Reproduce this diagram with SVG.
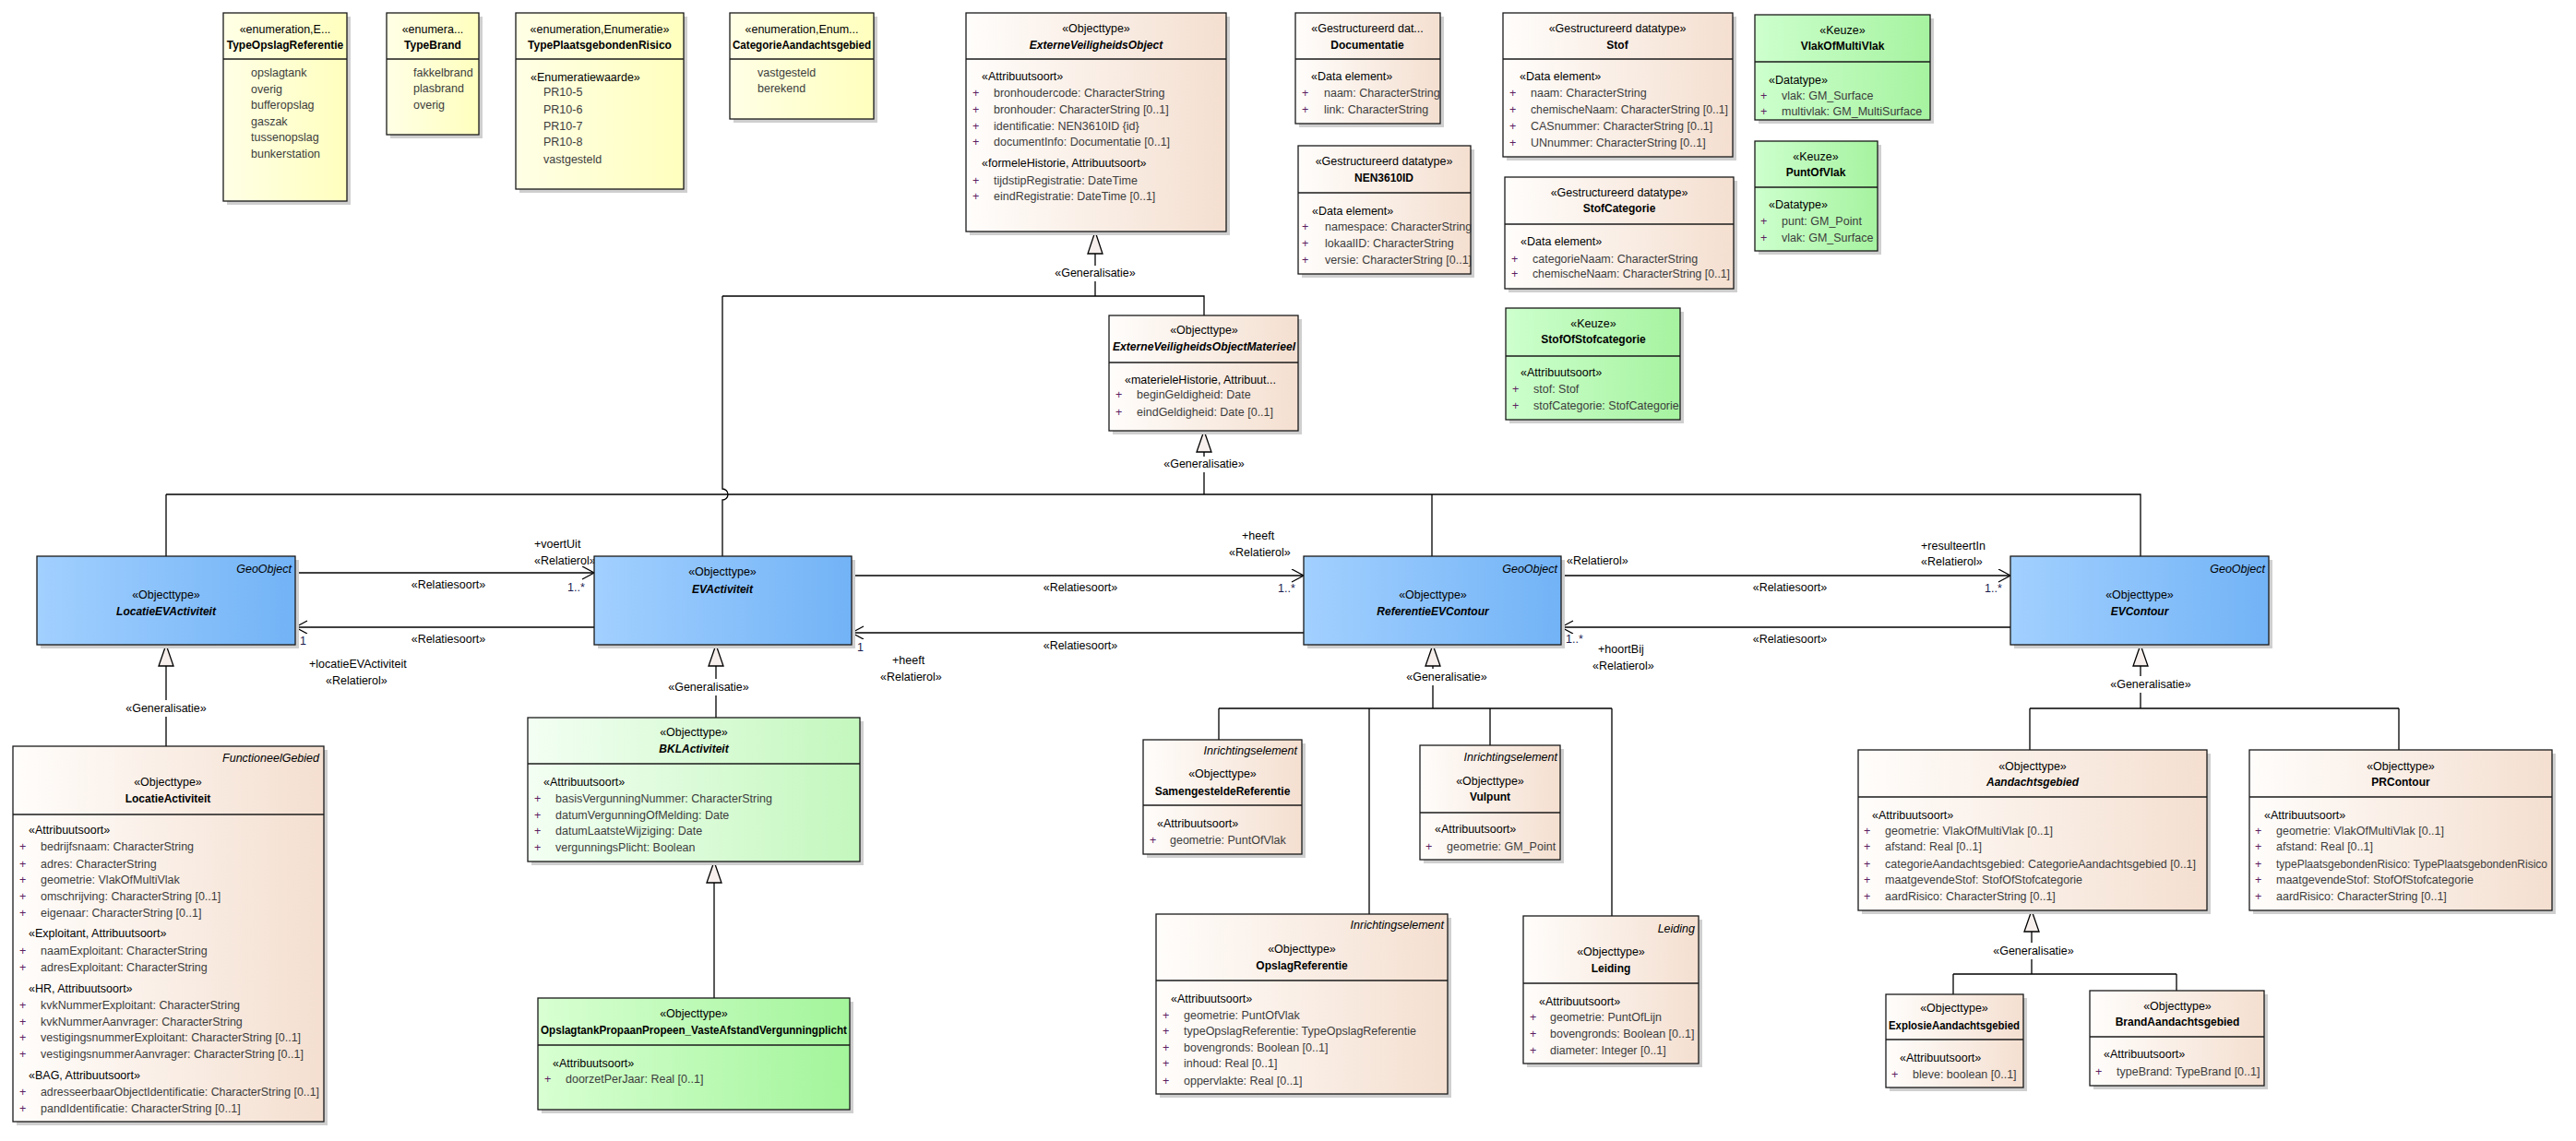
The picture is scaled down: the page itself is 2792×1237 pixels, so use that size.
<svg xmlns="http://www.w3.org/2000/svg" width="2792" height="1237" viewBox="0 0 2792 1237">
<style>
.t{font-family:"Liberation Sans",Arial,sans-serif;font-size:12.5px;fill:#000}
.c{text-anchor:middle}
.e{text-anchor:end}
.b{font-weight:bold;font-size:12px}
.i{font-style:italic}
.a{fill:#3c3c3c}
.p{fill:#5a2060}
.m{fill:#1c1c50}
.sh{fill:#cfcfcf}
.bx{stroke:#1a1a1a;stroke-width:1.3}
.sep{stroke:#1a1a1a;stroke-width:1.3}
.ln{stroke:#000;stroke-width:1.3;fill:none}
.tri{fill:#f7efec;stroke:#000;stroke-width:1.3}
</style>
<defs>
<linearGradient id="gY" x1="0" y1="0" x2="1" y2="0"><stop offset="0" stop-color="#ffffe6"/><stop offset="1" stop-color="#ffffbe"/></linearGradient>
<linearGradient id="gO" x1="0" y1="0" x2="1" y2="0"><stop offset="0" stop-color="#fffdfb"/><stop offset="1" stop-color="#f4dfd0"/></linearGradient>
<linearGradient id="gBl" x1="0" y1="0" x2="1" y2="0"><stop offset="0" stop-color="#a2d0ff"/><stop offset="1" stop-color="#72b3f6"/></linearGradient>
<linearGradient id="gG" x1="0" y1="0" x2="1" y2="0"><stop offset="0" stop-color="#cdffcd"/><stop offset="1" stop-color="#a6f3a0"/></linearGradient>
<linearGradient id="gGL" x1="0" y1="0" x2="1" y2="0"><stop offset="0" stop-color="#f3fff3"/><stop offset="1" stop-color="#c3f7bd"/></linearGradient>
<linearGradient id="gG2" x1="0" y1="0" x2="1" y2="0"><stop offset="0" stop-color="#d8ffd2"/><stop offset="1" stop-color="#a3f59b"/></linearGradient>
<marker id="open" markerWidth="16" markerHeight="16" refX="14" refY="7" orient="auto" markerUnits="userSpaceOnUse"><path d="M1,0 L14,7 L1,14" fill="none" stroke="#000" stroke-width="1.3"/></marker>
</defs>
<rect x="0" y="0" width="2792" height="1237" fill="#ffffff"/>

<g id="connectors">
<polygon class="tri" points="1187,251 1179,275 1195,275"/>
<path class="ln" d="M1187,275 V288 M1187,305 V321 M783,321 H1305 V342 M783,321 V530 A6,6 0 0 1 783,542 V603"/>
<text class="t c" x="1187" y="300">«Generalisatie»</text>
<polygon class="tri" points="1305,467 1297,490 1313,490"/>
<path class="ln" d="M1305,490 V495 M1305,512 V536 M180,536 H2320 V603 M180,536 V603 M1552,536 V603"/>
<text class="t c" x="1305" y="507">«Generalisatie»</text>
<polygon class="tri" points="180,699 172,722 188,722"/>
<path class="ln" d="M180,722 V759 M180,777 V809"/>
<text class="t c" x="180" y="772">«Generalisatie»</text>
<polygon class="tri" points="776,699 768,722 784,722"/>
<path class="ln" d="M776,722 V736 M776,754 V778"/>
<text class="t c" x="768" y="749">«Generalisatie»</text>
<polygon class="tri" points="774,934 766,957 782,957"/>
<path class="ln" d="M774,957 V1082"/>
<polygon class="tri" points="1553,699 1545,722 1561,722"/>
<path class="ln" d="M1553,722 V725 M1553,743 V768 M1321,768 H1747 M1321,768 V802 M1484,768 V991 M1615,768 V808 M1747,768 V993"/>
<text class="t c" x="1568" y="738">«Generalisatie»</text>
<polygon class="tri" points="2320,699 2312,722 2328,722"/>
<path class="ln" d="M2320,722 V733 M2320,751 V768 M2200,768 H2600 M2200,768 V813 M2600,768 V813"/>
<text class="t c" x="2331" y="746">«Generalisatie»</text>
<polygon class="tri" points="2202,987 2194,1010 2210,1010"/>
<path class="ln" d="M2202,1010 V1022 M2202,1040 V1056 M2117,1056 H2359 M2117,1056 V1078 M2359,1056 V1074"/>
<text class="t c" x="2204" y="1035">«Generalisatie»</text>

<line class="ln" x1="320" y1="621" x2="644" y2="621" marker-end="url(#open)"/>
<line class="ln" x1="644" y1="680" x2="320" y2="680" marker-end="url(#open)"/>
<line class="ln" x1="923" y1="624" x2="1413" y2="624" marker-end="url(#open)"/>
<line class="ln" x1="1413" y1="686" x2="923" y2="686" marker-end="url(#open)"/>
<line class="ln" x1="1692" y1="624" x2="2179" y2="624" marker-end="url(#open)"/>
<line class="ln" x1="2179" y1="680" x2="1692" y2="680" marker-end="url(#open)"/>

<text class="t" x="579" y="594">+voertUit</text>
<text class="t" x="579" y="612">«Relatierol»</text>
<text class="t c" x="486" y="638">«Relatiesoort»</text>
<text class="t m" x="615" y="641">1..*</text>
<text class="t c" x="486" y="697">«Relatiesoort»</text>
<text class="t m" x="325" y="699">1</text>
<text class="t" x="335" y="724">+locatieEVActiviteit</text>
<text class="t" x="353" y="742">«Relatierol»</text>

<text class="t" x="1346" y="585">+heeft</text>
<text class="t" x="1332" y="603">«Relatierol»</text>
<text class="t c" x="1171" y="641">«Relatiesoort»</text>
<text class="t m" x="1385" y="642">1..*</text>
<text class="t c" x="1171" y="704">«Relatiesoort»</text>
<text class="t m" x="929" y="706">1</text>
<text class="t" x="967" y="720">+heeft</text>
<text class="t" x="954" y="738">«Relatierol»</text>

<text class="t" x="1698" y="612">«Relatierol»</text>
<text class="t" x="2082" y="596">+resulteertIn</text>
<text class="t" x="2082" y="613">«Relatierol»</text>
<text class="t c" x="1940" y="641">«Relatiesoort»</text>
<text class="t m" x="2151" y="642">1..*</text>
<text class="t c" x="1940" y="697">«Relatiesoort»</text>
<text class="t m" x="1697" y="697">1..*</text>
<text class="t" x="1732" y="708">+hoortBij</text>
<text class="t" x="1726" y="726">«Relatierol»</text>
</g>

<g id="TypeOpslagReferentie">
<rect class="sh" x="246" y="18" width="134" height="204"/>
<rect class="bx" fill="url(#gY)" x="242" y="14" width="134" height="204"/>
<line class="sep" x1="242" y1="64" x2="376" y2="64"/>
<text class="t c" x="309" y="36">«enumeration,E...</text>
<text class="t c b" x="309" y="53">TypeOpslagReferentie</text>
<text class="t a" x="272" y="83">opslagtank</text>
<text class="t a" x="272" y="101">overig</text>
<text class="t a" x="272" y="118">bufferopslag</text>
<text class="t a" x="272" y="136">gaszak</text>
<text class="t a" x="272" y="153">tussenopslag</text>
<text class="t a" x="272" y="171">bunkerstation</text>
</g>

<g id="TypeBrand">
<rect class="sh" x="423" y="18" width="100" height="132"/>
<rect class="bx" fill="url(#gY)" x="419" y="14" width="100" height="132"/>
<line class="sep" x1="419" y1="64" x2="519" y2="64"/>
<text class="t c" x="469" y="36">«enumera...</text>
<text class="t c b" x="469" y="53">TypeBrand</text>
<text class="t a" x="448" y="83">fakkelbrand</text>
<text class="t a" x="448" y="100">plasbrand</text>
<text class="t a" x="448" y="118">overig</text>
</g>

<g id="TypePlaatsgebondenRisico">
<rect class="sh" x="563" y="18" width="182" height="191"/>
<rect class="bx" fill="url(#gY)" x="559" y="14" width="182" height="191"/>
<line class="sep" x1="559" y1="64" x2="741" y2="64"/>
<text class="t c" x="650" y="36">«enumeration,Enumeratie»</text>
<text class="t c b" x="650" y="53">TypePlaatsgebondenRisico</text>
<text class="t" x="575" y="88">«Enumeratiewaarde»</text>
<text class="t a" x="589" y="104">PR10-5</text>
<text class="t a" x="589" y="123">PR10-6</text>
<text class="t a" x="589" y="141">PR10-7</text>
<text class="t a" x="589" y="158">PR10-8</text>
<text class="t a" x="589" y="177">vastgesteld</text>
</g>

<g id="CategorieAandachtsgebied">
<rect class="sh" x="795" y="18" width="156" height="115"/>
<rect class="bx" fill="url(#gY)" x="791" y="14" width="156" height="115"/>
<line class="sep" x1="791" y1="64" x2="947" y2="64"/>
<text class="t c" x="869" y="36">«enumeration,Enum...</text>
<text class="t c b" x="869" y="53" textLength="150" lengthAdjust="spacingAndGlyphs">CategorieAandachtsgebied</text>
<text class="t a" x="821" y="83">vastgesteld</text>
<text class="t a" x="821" y="100">berekend</text>
</g>

<g id="ExterneVeiligheidsObject">
<rect class="sh" x="1051" y="18" width="282" height="237"/>
<rect class="bx" fill="url(#gO)" x="1047" y="14" width="282" height="237"/>
<line class="sep" x1="1047" y1="64" x2="1329" y2="64"/>
<text class="t c" x="1188" y="35">«Objecttype»</text>
<text class="t c b i" x="1188" y="53">ExterneVeiligheidsObject</text>
<text class="t" x="1064" y="87">«Attribuutsoort»</text>
<text class="t p" x="1054" y="105">+</text><text class="t a" x="1077" y="105">bronhoudercode: CharacterString</text>
<text class="t p" x="1054" y="123">+</text><text class="t a" x="1077" y="123">bronhouder: CharacterString [0..1]</text>
<text class="t p" x="1054" y="141">+</text><text class="t a" x="1077" y="141">identificatie: NEN3610ID {id}</text>
<text class="t p" x="1054" y="158">+</text><text class="t a" x="1077" y="158">documentInfo: Documentatie [0..1]</text>
<text class="t" x="1064" y="181">«formeleHistorie, Attribuutsoort»</text>
<text class="t p" x="1054" y="200">+</text><text class="t a" x="1077" y="200">tijdstipRegistratie: DateTime</text>
<text class="t p" x="1054" y="217">+</text><text class="t a" x="1077" y="217">eindRegistratie: DateTime [0..1]</text>
</g>

<g id="Documentatie">
<rect class="sh" x="1408" y="18" width="157" height="120"/>
<rect class="bx" fill="url(#gO)" x="1404" y="14" width="157" height="120"/>
<line class="sep" x1="1404" y1="64" x2="1561" y2="64"/>
<text class="t c" x="1482" y="35">«Gestructureerd dat...</text>
<text class="t c b" x="1482" y="53">Documentatie</text>
<text class="t" x="1421" y="87">«Data element»</text>
<text class="t p" x="1411" y="105">+</text><text class="t a" x="1435" y="105">naam: CharacterString</text>
<text class="t p" x="1411" y="123">+</text><text class="t a" x="1435" y="123">link: CharacterString</text>
</g>

<g id="NEN3610ID">
<rect class="sh" x="1411" y="162" width="187" height="139"/>
<rect class="bx" fill="url(#gO)" x="1407" y="158" width="187" height="139"/>
<line class="sep" x1="1407" y1="209" x2="1594" y2="209"/>
<text class="t c" x="1500" y="179">«Gestructureerd datatype»</text>
<text class="t c b" x="1500" y="197">NEN3610ID</text>
<text class="t" x="1422" y="233">«Data element»</text>
<text class="t p" x="1411" y="250">+</text><text class="t a" x="1436" y="250">namespace: CharacterString</text>
<text class="t p" x="1411" y="268">+</text><text class="t a" x="1436" y="268">lokaalID: CharacterString</text>
<text class="t p" x="1411" y="286">+</text><text class="t a" x="1436" y="286">versie: CharacterString [0..1]</text>
</g>

<g id="Stof">
<rect class="sh" x="1633" y="18" width="249" height="156"/>
<rect class="bx" fill="url(#gO)" x="1629" y="14" width="249" height="156"/>
<line class="sep" x1="1629" y1="64" x2="1878" y2="64"/>
<text class="t c" x="1753" y="35">«Gestructureerd datatype»</text>
<text class="t c b" x="1753" y="53">Stof</text>
<text class="t" x="1647" y="87">«Data element»</text>
<text class="t p" x="1636" y="105">+</text><text class="t a" x="1659" y="105">naam: CharacterString</text>
<text class="t p" x="1636" y="123">+</text><text class="t a" x="1659" y="123" textLength="214" lengthAdjust="spacingAndGlyphs">chemischeNaam: CharacterString [0..1]</text>
<text class="t p" x="1636" y="141">+</text><text class="t a" x="1659" y="141">CASnummer: CharacterString [0..1]</text>
<text class="t p" x="1636" y="159">+</text><text class="t a" x="1659" y="159">UNnummer: CharacterString [0..1]</text>
</g>

<g id="StofCategorie">
<rect class="sh" x="1635" y="196" width="248" height="121"/>
<rect class="bx" fill="url(#gO)" x="1631" y="192" width="248" height="121"/>
<line class="sep" x1="1631" y1="243" x2="1879" y2="243"/>
<text class="t c" x="1755" y="213">«Gestructureerd datatype»</text>
<text class="t c b" x="1755" y="230">StofCategorie</text>
<text class="t" x="1648" y="266">«Data element»</text>
<text class="t p" x="1638" y="285">+</text><text class="t a" x="1661" y="285">categorieNaam: CharacterString</text>
<text class="t p" x="1638" y="301">+</text><text class="t a" x="1661" y="301" textLength="214" lengthAdjust="spacingAndGlyphs">chemischeNaam: CharacterString [0..1]</text>
</g>

<g id="StofOfStofcategorie">
<rect class="sh" x="1636" y="338" width="189" height="121"/>
<rect class="bx" fill="url(#gG)" x="1632" y="334" width="189" height="121"/>
<line class="sep" x1="1632" y1="386" x2="1821" y2="386"/>
<text class="t c" x="1727" y="355">«Keuze»</text>
<text class="t c b" x="1727" y="372">StofOfStofcategorie</text>
<text class="t" x="1648" y="408">«Attribuutsoort»</text>
<text class="t p" x="1639" y="426">+</text><text class="t a" x="1662" y="426">stof: Stof</text>
<text class="t p" x="1639" y="444">+</text><text class="t a" x="1662" y="444">stofCategorie: StofCategorie</text>
</g>

<g id="VlakOfMultiVlak">
<rect class="sh" x="1906" y="20" width="190" height="114"/>
<rect class="bx" fill="url(#gG)" x="1902" y="16" width="190" height="114"/>
<line class="sep" x1="1902" y1="67" x2="2092" y2="67"/>
<text class="t c" x="1997" y="37">«Keuze»</text>
<text class="t c b" x="1997" y="54">VlakOfMultiVlak</text>
<text class="t" x="1917" y="91">«Datatype»</text>
<text class="t p" x="1908" y="108">+</text><text class="t a" x="1931" y="108">vlak: GM_Surface</text>
<text class="t p" x="1908" y="125">+</text><text class="t a" x="1931" y="125">multivlak: GM_MultiSurface</text>
</g>

<g id="PuntOfVlak">
<rect class="sh" x="1906" y="157" width="133" height="119"/>
<rect class="bx" fill="url(#gG)" x="1902" y="153" width="133" height="119"/>
<line class="sep" x1="1902" y1="203" x2="2035" y2="203"/>
<text class="t c" x="1968" y="174">«Keuze»</text>
<text class="t c b" x="1968" y="191">PuntOfVlak</text>
<text class="t" x="1917" y="226">«Datatype»</text>
<text class="t p" x="1908" y="244">+</text><text class="t a" x="1931" y="244">punt: GM_Point</text>
<text class="t p" x="1908" y="262">+</text><text class="t a" x="1931" y="262">vlak: GM_Surface</text>
</g>

<g id="ExterneVeiligheidsObjectMaterieel">
<rect class="sh" x="1206" y="346" width="205" height="125"/>
<rect class="bx" fill="url(#gO)" x="1202" y="342" width="205" height="125"/>
<line class="sep" x1="1202" y1="393" x2="1407" y2="393"/>
<text class="t c" x="1305" y="362">«Objecttype»</text>
<text class="t c b i" x="1305" y="380" textLength="198" lengthAdjust="spacingAndGlyphs">ExterneVeiligheidsObjectMaterieel</text>
<text class="t" x="1219" y="416">«materieleHistorie, Attribuut...</text>
<text class="t p" x="1209" y="432">+</text><text class="t a" x="1232" y="432">beginGeldigheid: Date</text>
<text class="t p" x="1209" y="451">+</text><text class="t a" x="1232" y="451">eindGeldigheid: Date [0..1]</text>
</g>

<g id="LocatieEVActiviteit">
<rect class="sh" x="44" y="607" width="280" height="96"/>
<rect class="bx" fill="url(#gBl)" x="40" y="603" width="280" height="96"/>
<text class="t e i" x="316" y="621">GeoObject</text>
<text class="t c" x="180" y="649">«Objecttype»</text>
<text class="t c b i" x="180" y="667">LocatieEVActiviteit</text>
</g>

<g id="EVActiviteit">
<rect class="sh" x="648" y="607" width="279" height="96"/>
<rect class="bx" fill="url(#gBl)" x="644" y="603" width="279" height="96"/>
<text class="t c" x="783" y="624">«Objecttype»</text>
<text class="t c b i" x="783" y="643">EVActiviteit</text>
</g>

<g id="ReferentieEVContour">
<rect class="sh" x="1417" y="607" width="279" height="96"/>
<rect class="bx" fill="url(#gBl)" x="1413" y="603" width="279" height="96"/>
<text class="t e i" x="1688" y="621">GeoObject</text>
<text class="t c" x="1553" y="649">«Objecttype»</text>
<text class="t c b i" x="1553" y="667">ReferentieEVContour</text>
</g>

<g id="EVContour">
<rect class="sh" x="2183" y="607" width="280" height="96"/>
<rect class="bx" fill="url(#gBl)" x="2179" y="603" width="280" height="96"/>
<text class="t e i" x="2455" y="621">GeoObject</text>
<text class="t c" x="2319" y="649">«Objecttype»</text>
<text class="t c b i" x="2319" y="667">EVContour</text>
</g>

<g id="LocatieActiviteit">
<rect class="sh" x="18" y="813" width="337" height="407"/>
<rect class="bx" fill="url(#gO)" x="14" y="809" width="337" height="407"/>
<line class="sep" x1="14" y1="883" x2="351" y2="883"/>
<text class="t e i" x="346" y="826">FunctioneelGebied</text>
<text class="t c" x="182" y="852">«Objecttype»</text>
<text class="t c b" x="182" y="870">LocatieActiviteit</text>
<text class="t" x="31" y="904">«Attribuutsoort»</text>
<text class="t p" x="21" y="922">+</text><text class="t a" x="44" y="922">bedrijfsnaam: CharacterString</text>
<text class="t p" x="21" y="941">+</text><text class="t a" x="44" y="941">adres: CharacterString</text>
<text class="t p" x="21" y="958">+</text><text class="t a" x="44" y="958">geometrie: VlakOfMultiVlak</text>
<text class="t p" x="21" y="976">+</text><text class="t a" x="44" y="976">omschrijving: CharacterString [0..1]</text>
<text class="t p" x="21" y="994">+</text><text class="t a" x="44" y="994">eigenaar: CharacterString [0..1]</text>
<text class="t" x="31" y="1016">«Exploitant, Attribuutsoort»</text>
<text class="t p" x="21" y="1035">+</text><text class="t a" x="44" y="1035">naamExploitant: CharacterString</text>
<text class="t p" x="21" y="1053">+</text><text class="t a" x="44" y="1053">adresExploitant: CharacterString</text>
<text class="t" x="31" y="1076">«HR, Attribuutsoort»</text>
<text class="t p" x="21" y="1094">+</text><text class="t a" x="44" y="1094">kvkNummerExploitant: CharacterString</text>
<text class="t p" x="21" y="1112">+</text><text class="t a" x="44" y="1112">kvkNummerAanvrager: CharacterString</text>
<text class="t p" x="21" y="1129">+</text><text class="t a" x="44" y="1129">vestigingsnummerExploitant: CharacterString [0..1]</text>
<text class="t p" x="21" y="1147">+</text><text class="t a" x="44" y="1147">vestigingsnummerAanvrager: CharacterString [0..1]</text>
<text class="t" x="31" y="1170">«BAG, Attribuutsoort»</text>
<text class="t p" x="21" y="1188">+</text><text class="t a" x="44" y="1188" textLength="302" lengthAdjust="spacingAndGlyphs">adresseerbaarObjectIdentificatie: CharacterString [0..1]</text>
<text class="t p" x="21" y="1206">+</text><text class="t a" x="44" y="1206">pandIdentificatie: CharacterString [0..1]</text>
</g>

<g id="BKLActiviteit">
<rect class="sh" x="576" y="782" width="360" height="156"/>
<rect class="bx" fill="url(#gGL)" x="572" y="778" width="360" height="156"/>
<line class="sep" x1="572" y1="828" x2="932" y2="828"/>
<text class="t c" x="752" y="798">«Objecttype»</text>
<text class="t c b i" x="752" y="816">BKLActiviteit</text>
<text class="t" x="589" y="852">«Attribuutsoort»</text>
<text class="t p" x="579" y="870">+</text><text class="t a" x="602" y="870">basisVergunningNummer: CharacterString</text>
<text class="t p" x="579" y="888">+</text><text class="t a" x="602" y="888">datumVergunningOfMelding: Date</text>
<text class="t p" x="579" y="905">+</text><text class="t a" x="602" y="905">datumLaatsteWijziging: Date</text>
<text class="t p" x="579" y="923">+</text><text class="t a" x="602" y="923">vergunningsPlicht: Boolean</text>
</g>

<g id="OpslagtankPropaanPropeen_VasteAfstandVergunningplicht">
<rect class="sh" x="587" y="1086" width="338" height="121"/>
<rect class="bx" fill="url(#gG2)" x="583" y="1082" width="338" height="121"/>
<line class="sep" x1="583" y1="1133" x2="921" y2="1133"/>
<text class="t c" x="752" y="1103">«Objecttype»</text>
<text class="t c b" x="752" y="1121" textLength="332" lengthAdjust="spacingAndGlyphs">OpslagtankPropaanPropeen_VasteAfstandVergunningplicht</text>
<text class="t" x="599" y="1157">«Attribuutsoort»</text>
<text class="t p" x="590" y="1174">+</text><text class="t a" x="613" y="1174">doorzetPerJaar: Real [0..1]</text>
</g>

<g id="SamengesteldeReferentie">
<rect class="sh" x="1243" y="806" width="172" height="124"/>
<rect class="bx" fill="url(#gO)" x="1239" y="802" width="172" height="124"/>
<line class="sep" x1="1239" y1="873" x2="1411" y2="873"/>
<text class="t e i" x="1406" y="818">Inrichtingselement</text>
<text class="t c" x="1325" y="843">«Objecttype»</text>
<text class="t c b" x="1325" y="862">SamengesteldeReferentie</text>
<text class="t" x="1254" y="897">«Attribuutsoort»</text>
<text class="t p" x="1246" y="915">+</text><text class="t a" x="1268" y="915">geometrie: PuntOfVlak</text>
</g>

<g id="Vulpunt">
<rect class="sh" x="1543" y="812" width="152" height="124"/>
<rect class="bx" fill="url(#gO)" x="1539" y="808" width="152" height="124"/>
<line class="sep" x1="1539" y1="881" x2="1691" y2="881"/>
<text class="t e i" x="1688" y="825">Inrichtingselement</text>
<text class="t c" x="1615" y="851">«Objecttype»</text>
<text class="t c b" x="1615" y="868">Vulpunt</text>
<text class="t" x="1555" y="903">«Attribuutsoort»</text>
<text class="t p" x="1545" y="922">+</text><text class="t a" x="1568" y="922">geometrie: GM_Point</text>
</g>

<g id="OpslagReferentie">
<rect class="sh" x="1257" y="995" width="316" height="195"/>
<rect class="bx" fill="url(#gO)" x="1253" y="991" width="316" height="195"/>
<line class="sep" x1="1253" y1="1063" x2="1569" y2="1063"/>
<text class="t e i" x="1565" y="1007">Inrichtingselement</text>
<text class="t c" x="1411" y="1033">«Objecttype»</text>
<text class="t c b" x="1411" y="1051">OpslagReferentie</text>
<text class="t" x="1269" y="1087">«Attribuutsoort»</text>
<text class="t p" x="1260" y="1105">+</text><text class="t a" x="1283" y="1105">geometrie: PuntOfVlak</text>
<text class="t p" x="1260" y="1122">+</text><text class="t a" x="1283" y="1122">typeOpslagReferentie: TypeOpslagReferentie</text>
<text class="t p" x="1260" y="1140">+</text><text class="t a" x="1283" y="1140">bovengronds: Boolean [0..1]</text>
<text class="t p" x="1260" y="1157">+</text><text class="t a" x="1283" y="1157">inhoud: Real [0..1]</text>
<text class="t p" x="1260" y="1176">+</text><text class="t a" x="1283" y="1176">oppervlakte: Real [0..1]</text>
</g>

<g id="Leiding">
<rect class="sh" x="1655" y="997" width="190" height="160"/>
<rect class="bx" fill="url(#gO)" x="1651" y="993" width="190" height="160"/>
<line class="sep" x1="1651" y1="1066" x2="1841" y2="1066"/>
<text class="t e i" x="1837" y="1011">Leiding</text>
<text class="t c" x="1746" y="1036">«Objecttype»</text>
<text class="t c b" x="1746" y="1054">Leiding</text>
<text class="t" x="1668" y="1090">«Attribuutsoort»</text>
<text class="t p" x="1658" y="1107">+</text><text class="t a" x="1680" y="1107">geometrie: PuntOfLijn</text>
<text class="t p" x="1658" y="1125">+</text><text class="t a" x="1680" y="1125">bovengronds: Boolean [0..1]</text>
<text class="t p" x="1658" y="1143">+</text><text class="t a" x="1680" y="1143">diameter: Integer [0..1]</text>
</g>

<g id="Aandachtsgebied">
<rect class="sh" x="2018" y="817" width="378" height="174"/>
<rect class="bx" fill="url(#gO)" x="2014" y="813" width="378" height="174"/>
<line class="sep" x1="2014" y1="864" x2="2392" y2="864"/>
<text class="t c" x="2203" y="835">«Objecttype»</text>
<text class="t c b i" x="2203" y="852">Aandachtsgebied</text>
<text class="t" x="2029" y="888">«Attribuutsoort»</text>
<text class="t p" x="2020" y="905">+</text><text class="t a" x="2043" y="905">geometrie: VlakOfMultiVlak [0..1]</text>
<text class="t p" x="2020" y="922">+</text><text class="t a" x="2043" y="922">afstand: Real [0..1]</text>
<text class="t p" x="2020" y="941">+</text><text class="t a" x="2043" y="941">categorieAandachtsgebied: CategorieAandachtsgebied [0..1]</text>
<text class="t p" x="2020" y="958">+</text><text class="t a" x="2043" y="958">maatgevendeStof: StofOfStofcategorie</text>
<text class="t p" x="2020" y="976">+</text><text class="t a" x="2043" y="976">aardRisico: CharacterString [0..1]</text>
</g>

<g id="PRContour">
<rect class="sh" x="2442" y="817" width="328" height="174"/>
<rect class="bx" fill="url(#gO)" x="2438" y="813" width="328" height="174"/>
<line class="sep" x1="2438" y1="864" x2="2766" y2="864"/>
<text class="t c" x="2602" y="835">«Objecttype»</text>
<text class="t c b" x="2602" y="852">PRContour</text>
<text class="t" x="2454" y="888">«Attribuutsoort»</text>
<text class="t p" x="2444" y="905">+</text><text class="t a" x="2467" y="905">geometrie: VlakOfMultiVlak [0..1]</text>
<text class="t p" x="2444" y="922">+</text><text class="t a" x="2467" y="922">afstand: Real [0..1]</text>
<text class="t p" x="2444" y="941">+</text><text class="t a" x="2467" y="941" textLength="294" lengthAdjust="spacingAndGlyphs">typePlaatsgebondenRisico: TypePlaatsgebondenRisico</text>
<text class="t p" x="2444" y="958">+</text><text class="t a" x="2467" y="958">maatgevendeStof: StofOfStofcategorie</text>
<text class="t p" x="2444" y="976">+</text><text class="t a" x="2467" y="976">aardRisico: CharacterString [0..1]</text>
</g>

<g id="ExplosieAandachtsgebied">
<rect class="sh" x="2048" y="1082" width="149" height="101"/>
<rect class="bx" fill="url(#gO)" x="2044" y="1078" width="149" height="101"/>
<line class="sep" x1="2044" y1="1127" x2="2193" y2="1127"/>
<text class="t c" x="2118" y="1097">«Objecttype»</text>
<text class="t c b" x="2118" y="1116" textLength="142" lengthAdjust="spacingAndGlyphs">ExplosieAandachtsgebied</text>
<text class="t" x="2059" y="1151">«Attribuutsoort»</text>
<text class="t p" x="2050" y="1169">+</text><text class="t a" x="2073" y="1169">bleve: boolean [0..1]</text>
</g>

<g id="BrandAandachtsgebied">
<rect class="sh" x="2269" y="1078" width="189" height="103"/>
<rect class="bx" fill="url(#gO)" x="2265" y="1074" width="189" height="103"/>
<line class="sep" x1="2265" y1="1124" x2="2454" y2="1124"/>
<text class="t c" x="2360" y="1095">«Objecttype»</text>
<text class="t c b" x="2360" y="1112">BrandAandachtsgebied</text>
<text class="t" x="2280" y="1147">«Attribuutsoort»</text>
<text class="t p" x="2271" y="1166">+</text><text class="t a" x="2294" y="1166">typeBrand: TypeBrand [0..1]</text>
</g>
</svg>
